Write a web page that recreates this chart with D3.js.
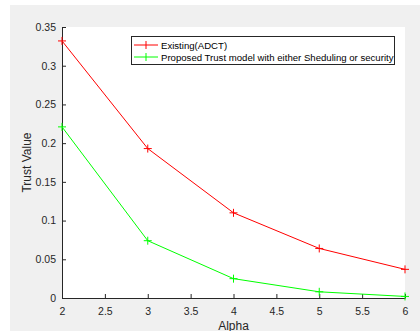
<!DOCTYPE html>
<html lang="en">
<head>
  <meta charset="UTF-8">
  <title>Trust Value vs Alpha</title>
  <script src="https://cdn.jsdelivr.net/npm/d3@7"></script>
  <style>
    body { margin: 0; background: #fff; }
    text { font-family: "Liberation Sans", Arial, sans-serif; }
  </style>
</head>
<body>
<script>
// data
var alpha = [2, 3, 4, 5, 6];
var existing = [0.332, 0.193, 0.110, 0.064, 0.037];
var proposed = [0.221, 0.074, 0.025, 0.008, 0.002];
var seriesNames = ["Existing(ADCT)", "Proposed Trust model with either Sheduling or security"];
var xTicks = [2, 2.5, 3, 3.5, 4, 4.5, 5, 5.5, 6];
var yTicks = [0, 0.05, 0.1, 0.15, 0.2, 0.25, 0.3, 0.35];

var w = 420, h = 331;
var pLeft = 62, pRight = 405, pTop = 27, pBottom = 298;

var svg = d3.select("body").append("svg")
  .attr("width", w).attr("height", h);

// figure background
svg.append("rect").attr("x", 10).attr("y", 5)
  .attr("width", w - 10).attr("height", h - 5).attr("fill", "#f0f0f0");
// axes area
svg.append("rect").attr("x", pLeft).attr("y", pTop)
  .attr("width", pRight - pLeft).attr("height", pBottom - pTop).attr("fill", "#fff");

var xScale = d3.scaleLinear().domain([2, 6]).range([pLeft, pRight]);
var yScale = d3.scaleLinear().domain([0, 0.35]).range([pBottom, pTop]);

var xAxis = d3.axisBottom(xScale).tickValues(xTicks).tickSizeInner(-4).tickSizeOuter(0)
  .tickPadding(8).tickFormat(d3.format("~g"));
var yAxis = d3.axisLeft(yScale).tickValues(yTicks).tickSizeInner(-4).tickSizeOuter(0)
  .tickPadding(6).tickFormat(d3.format("~g"));

var gx = svg.append("g").attr("transform", "translate(0," + pBottom + ")").call(xAxis);
var gy = svg.append("g").attr("transform", "translate(" + pLeft + ",0)").call(yAxis);
[gx, gy].forEach(function(g) {
  g.select(".domain").attr("stroke", "#262626").attr("stroke-width", 1);
  g.selectAll(".tick line").attr("stroke", "#262626");
  g.selectAll(".tick text").attr("fill", "#262626").style("font-size", "10.5px");
});
gx.selectAll(".tick text").attr("dy", "0.9em");

// axis labels
svg.append("text").attr("x", (pLeft + pRight) / 2).attr("y", 330)
  .attr("text-anchor", "middle").attr("fill", "#262626").style("font-size", "12px").text("Alpha");
svg.append("text").attr("transform", "translate(31," + ((pTop + pBottom) / 2) + ") rotate(-90)")
  .attr("text-anchor", "middle").attr("fill", "#262626").style("font-size", "12px").text("Trust Value");

var line = d3.line().x(function(d) { return xScale(d[0]); }).y(function(d) { return yScale(d[1]); });
var series = [
  { name: seriesNames[0], values: existing, color: "#ff0000" },
  { name: seriesNames[1], values: proposed, color: "#00ff00" }
];

series.forEach(function(s) {
  var pts = alpha.map(function(a, i) { return [a, s.values[i]]; });
  svg.append("path").datum(pts).attr("d", line)
    .attr("fill", "none").attr("stroke", s.color).attr("stroke-width", 1);
  svg.selectAll(null).data(pts).enter().append("path")
    .attr("d", function(d) {
      var x = xScale(d[0]), y = yScale(d[1]), r = 4;
      return "M" + (x - r) + "," + y + "H" + (x + r) + "M" + x + "," + (y - r) + "V" + (y + r);
    })
    .attr("stroke", s.color).attr("stroke-width", 1);
});

// legend
var lg = svg.append("g");
lg.append("rect").attr("x", 131.5).attr("y", 36.5).attr("width", 263).attr("height", 28)
  .attr("fill", "#fff").attr("stroke", "#262626").attr("stroke-width", 1);
series.forEach(function(s, i) {
  var y = 45 + i * 12;
  lg.append("line").attr("x1", 134).attr("x2", 158).attr("y1", y).attr("y2", y)
    .attr("stroke", s.color);
  lg.append("line").attr("x1", 146).attr("x2", 146).attr("y1", y - 4).attr("y2", y + 4)
    .attr("stroke", s.color);
  lg.append("text").attr("x", 161).attr("y", y + 3.5).attr("fill", "#000")
    .style("font-size", "9.6px").text(s.name);
});
</script>
</body>
</html>
